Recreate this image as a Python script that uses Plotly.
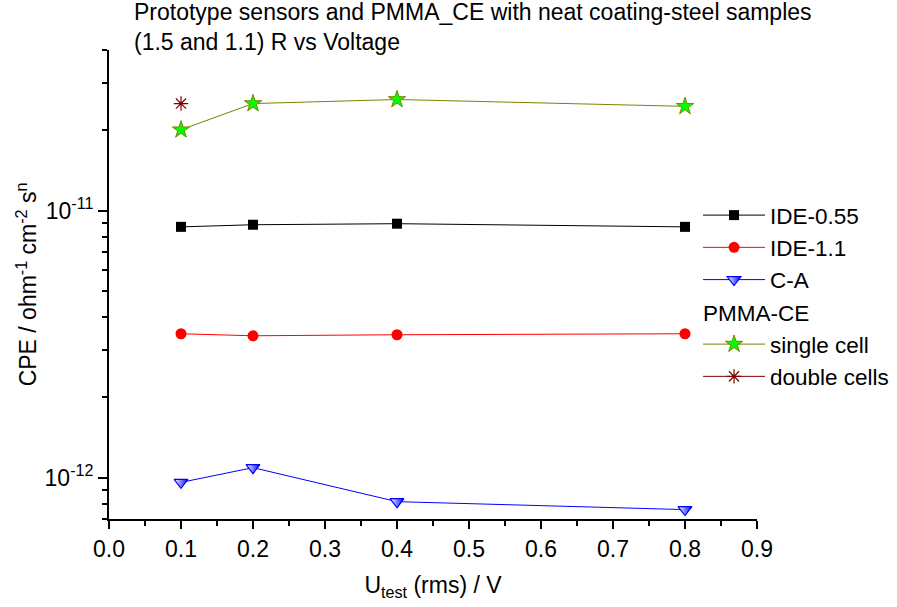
import numpy as np
import plotly.graph_objects as go

x_vals = [0.1, 0.2, 0.4, 0.8]
ide_055 = [8.7e-12, 8.86e-12, 8.94e-12, 8.7e-12]
ide_11 = [3.46e-12, 3.40e-12, 3.43e-12, 3.46e-12]
c_a = [9.6e-13, 1.09e-12, 8.13e-13, 7.59e-13]
single_cell = [2.01e-11, 2.52e-11, 2.61e-11, 2.46e-11]
double_x = [0.1]
double_cells = [2.52e-11]

x_ticks = [0.0, 0.1, 0.2, 0.3, 0.4, 0.5, 0.6, 0.7, 0.8, 0.9]
y_major = [1e-12, 1e-11]
y_major_text = ["10<sup>-12</sup>", "10<sup>-11</sup>"]
y_minor = [7e-13, 8e-13, 9e-13, 2e-12, 3e-12, 4e-12, 5e-12, 6e-12, 7e-12, 8e-12, 9e-12,
           2e-11, 3e-11, 4e-11]

FS = 23
LFS = 22.5

fig = go.Figure()
fig.add_trace(go.Scatter(x=x_vals, y=ide_055, name="IDE-0.55", mode="lines+markers",
                         line=dict(color="black", width=1),
                         marker=dict(symbol="square", size=10, color="black")))
fig.add_trace(go.Scatter(x=x_vals, y=ide_11, name="IDE-1.1", mode="lines+markers",
                         line=dict(color="#FF0000", width=1),
                         marker=dict(symbol="circle", size=11, color="#FF0000")))
fig.add_trace(go.Scatter(x=x_vals, y=c_a, name="C-A", mode="lines+markers",
                         line=dict(color="#0000FF", width=1),
                         marker=dict(symbol="triangle-down", size=12, color="white",
                                     gradient=dict(type="horizontal", color="#0000FF"),
                                     line=dict(color="#0000FF", width=1.2))))
fig.add_trace(go.Scatter(x=x_vals, y=single_cell, name="single cell", mode="lines+markers",
                         legendgroup="pmma",
                         legendgrouptitle=dict(text="PMMA-CE", font=dict(size=LFS, color="black")),
                         line=dict(color="#808000", width=1),
                         marker=dict(symbol="star", size=13, color="#00FF00",
                                     line=dict(color="#808000", width=1))))
fig.add_trace(go.Scatter(x=double_x, y=double_cells, name="double cells", mode="lines+markers",
                         legendgroup="pmma",
                         line=dict(color="#800000", width=1),
                         marker=dict(symbol="asterisk-open", size=12, color="#800000",
                                     line=dict(color="#800000", width=1.2))))

fig.add_annotation(text="Prototype sensors and PMMA_CE with neat coating-steel samples<br>(1.5 and 1.1) R vs Voltage",
                   xref="paper", yref="paper", x=(132 - 109) / 648, y=1 + 53 / 469,
                   xanchor="left", yanchor="top", align="left", showarrow=False,
                   font=dict(size=FS, color="black"))

fig.update_layout(
    width=897, height=607,
    margin=dict(l=109, r=140, t=50, b=88, autoexpand=False),
    plot_bgcolor="white", paper_bgcolor="white",
    font=dict(family="Liberation Sans, Arial, sans-serif", size=FS, color="black"),
    legend=dict(x=0.909, xanchor="left", y=0.693, yanchor="top",
                bgcolor="rgba(0,0,0,0)", font=dict(size=LFS),
                traceorder="grouped", tracegroupgap=0, itemwidth=62),
    showlegend=True,
)
fig.update_xaxes(range=[0, 0.9], tickvals=x_ticks, ticktext=[f"{v:.1f}" for v in x_ticks],
                 showline=True, linecolor="black", linewidth=2, ticks="outside", ticklen=8,
                 tickwidth=2, tickcolor="black", showgrid=False, zeroline=False,
                 minor=dict(tickvals=[0.05 + 0.1 * i for i in range(9)], ticks="outside",
                            ticklen=5, tickwidth=2, tickcolor="black", showgrid=False),
                 title=dict(text="U<sub>test</sub> (rms) / V", font=dict(size=FS), standoff=16))
fig.update_yaxes(type="log", range=[np.log10(7e-13), np.log10(4e-11)],
                 tickvals=y_major, ticktext=y_major_text,
                 showline=True, linecolor="black", linewidth=2, ticks="outside", ticklen=9,
                 tickwidth=2, tickcolor="black", showgrid=False, zeroline=False,
                 minor=dict(tickvals=y_minor, ticks="outside", ticklen=5, tickwidth=2,
                            tickcolor="black", showgrid=False),
                 title=dict(text="CPE / ohm<sup>-1</sup> cm<sup>-2</sup> s<sup>n</sup>",
                            font=dict(size=FS), standoff=1))

fig.write_html("out.html")
